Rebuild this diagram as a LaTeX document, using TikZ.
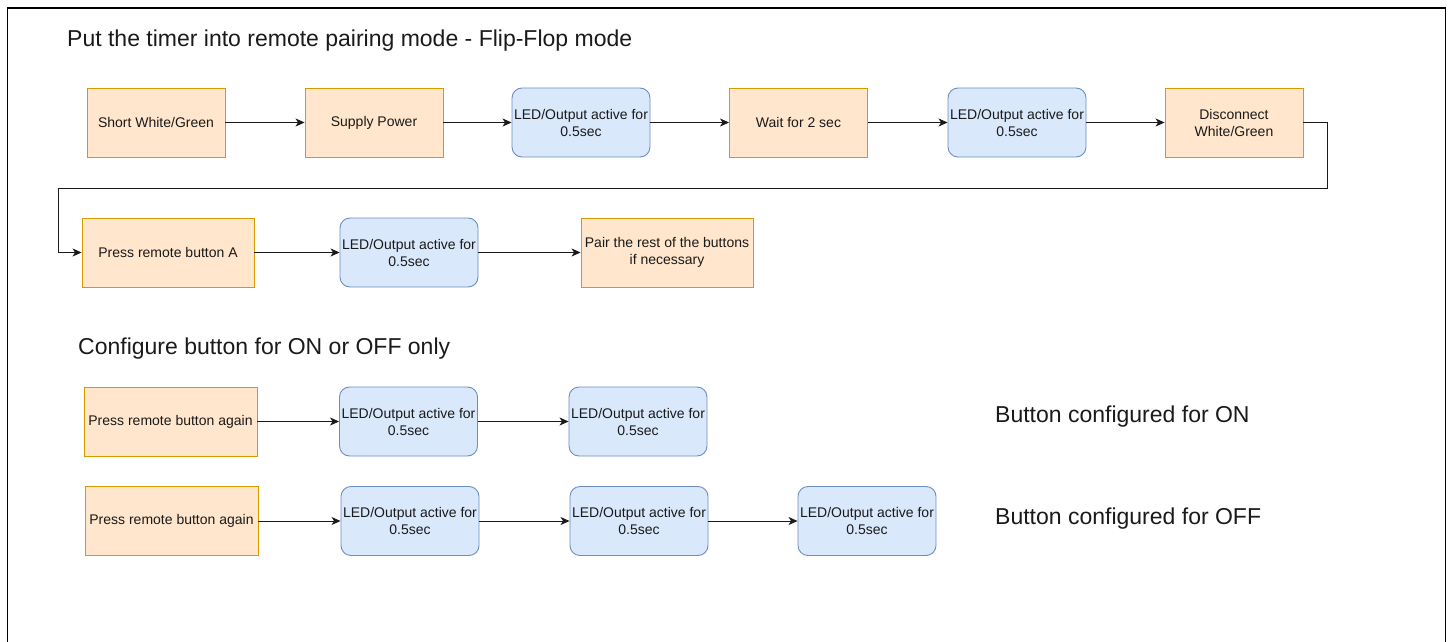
\documentclass[tikz,border=0pt]{standalone}
\usepackage{fontspec}
\setmainfont{Liberation Sans}
\usetikzlibrary{arrows.meta}
\definecolor{ofill}{HTML}{FFE6CC}
\definecolor{odraw}{HTML}{D79B00}
\definecolor{bfill}{HTML}{DAE8FC}
\definecolor{bdraw}{HTML}{6C8EBF}
\definecolor{lnc}{HTML}{1A1A1A}
\tikzset{
  obox/.style={draw=odraw, fill=ofill, line width=0.9pt, rectangle, minimum height=69pt, inner sep=0pt, align=center, font=\fontsize{14}{17}\selectfont, text=lnc},
  bbox/.style={draw=bdraw, fill=bfill, line width=0.9pt, rectangle, rounded corners=10pt, minimum width=138pt, minimum height=69pt, inner sep=0pt, align=center, font=\fontsize{14}{17}\selectfont, text=lnc},
  arr/.style={draw=lnc, line width=1pt, -{Stealth[length=9pt,width=8pt,inset=2.5pt]}},
  heading/.style={anchor=west, inner sep=0pt, font=\fontsize{23}{27}\selectfont, text=lnc},
  frameline/.style={draw=black, line width=1.4pt}
}
\begin{document}
\begin{tikzpicture}[x=1pt,y=-1pt]
\useasboundingbox (0,0) rectangle (1448,642);
\draw[frameline] (7.5,642) -- (7.5,8) -- (1445.5,8) -- (1445.5,642);

\node[heading] (t1) at (67,41) {Put the timer into remote pairing mode - Flip-Flop mode};
\node[heading] (t2) at (78,349) {Configure button for ON or OFF only};
\node[heading] (t3) at (995,417) {Button configured for ON};
\node[heading] (t4) at (995,519) {Button configured for OFF};

% Row 1
\node[obox, minimum width=138pt] (n1) at (156,122.5) {Short White/Green};
\node[obox, minimum width=138pt] (n2) at (374,122.5) {Supply Power};
\node[bbox] (n3) at (581,122.5) {LED/Output active for\\0.5sec};
\node[obox, minimum width=138pt] (n4) at (798.5,122.5) {Wait for 2 sec};
\node[bbox] (n5) at (1017,122.5) {LED/Output active for\\0.5sec};
\node[obox, minimum width=138pt] (n6) at (1234,122.5) {Disconnect\\White/Green};

% Row 2
\node[obox, minimum width=172pt] (n7) at (168,252.5) {Press remote button A};
\node[bbox] (n8) at (409,252.5) {LED/Output active for\\0.5sec};
\node[obox, minimum width=172pt] (n9) at (667,252.5) {Pair the rest of the buttons\\if necessary};

% Row 3
\node[obox, minimum width=173pt] (n10) at (170.5,421.5) {Press remote button again};
\node[bbox] (n11) at (408.5,421.5) {LED/Output active for\\0.5sec};
\node[bbox] (n12) at (638,421.5) {LED/Output active for\\0.5sec};

% Row 4
\node[obox, minimum width=173pt] (n13) at (171.5,521) {Press remote button again};
\node[bbox] (n14) at (410,521) {LED/Output active for\\0.5sec};
\node[bbox] (n15) at (639,521) {LED/Output active for\\0.5sec};
\node[bbox] (n16) at (867,521) {LED/Output active for\\0.5sec};

\coordinate (c1) at (1327,188);
\coordinate (c2) at (58,188);

\draw[arr] (n1) -- (n2);
\draw[arr] (n2) -- (n3);
\draw[arr] (n3) -- (n4);
\draw[arr] (n4) -- (n5);
\draw[arr] (n5) -- (n6);
\draw[arr] (n6.east) -| (c1) -- (c2) |- (n7.west);
\draw[arr] (n7) -- (n8);
\draw[arr] (n8) -- (n9);
\draw[arr] (n10) -- (n11);
\draw[arr] (n11) -- (n12);
\draw[arr] (n13) -- (n14);
\draw[arr] (n14) -- (n15);
\draw[arr] (n15) -- (n16);
\end{tikzpicture}
\end{document}
